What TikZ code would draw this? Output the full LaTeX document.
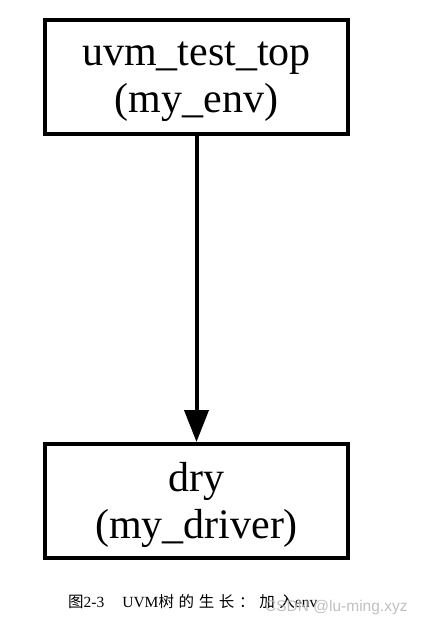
\documentclass[tikz,border=0pt]{standalone}
\usepackage{fontspec}
\setmainfont{Liberation Serif}
\newfontfamily\cjk[LetterSpace=30]{Noto Sans CJK SC}
\newfontfamily\wmfont{Liberation Sans}
\usetikzlibrary{arrows.meta}

\begin{document}
\begin{tikzpicture}[x=1pt,y=-1pt,>={Triangle[length=32pt,width=24pt]},line join=miter,
    treebox/.style={draw,line width=4pt,minimum width=303pt,minimum height=114pt,inner sep=0pt},
    treetext/.style={align=center,inner sep=0pt,font=\fontsize{42}{47}\selectfont}]
    \useasboundingbox (0,0) rectangle (423,625);

    % the two components of the tree
    \node[treebox] (envbox) at (196.5,77) {};
    \node[treetext] (envtext) at ([yshift=-5pt]envbox.center) {uvm\_test\_top\\(my\_env)};

    \node[treebox] (drvbox) at (196.5,501) {};
    \node[treetext] (drvtext) at ([yshift=-4pt]drvbox.center) {dry\\(my\_driver)};

    \draw[->,line width=4pt] (envbox.south) -- (drvbox.north);

    % caption and watermark
    \node[anchor=base west,inner sep=0pt,font=\fontsize{15.5}{18}\selectfont] (caption) at (68,607)
        {{\cjk 图}2-3\hspace{18pt}UVM{\cjk 树的生长：加入}env};
    \node[anchor=base west,inner sep=0pt,text=gray!55,opacity=0.9,font=\wmfont\fontsize{15.5}{18}\selectfont]
        (mark) at (265,611) {CSDN @lu-ming.xyz};
\end{tikzpicture}
\end{document}
